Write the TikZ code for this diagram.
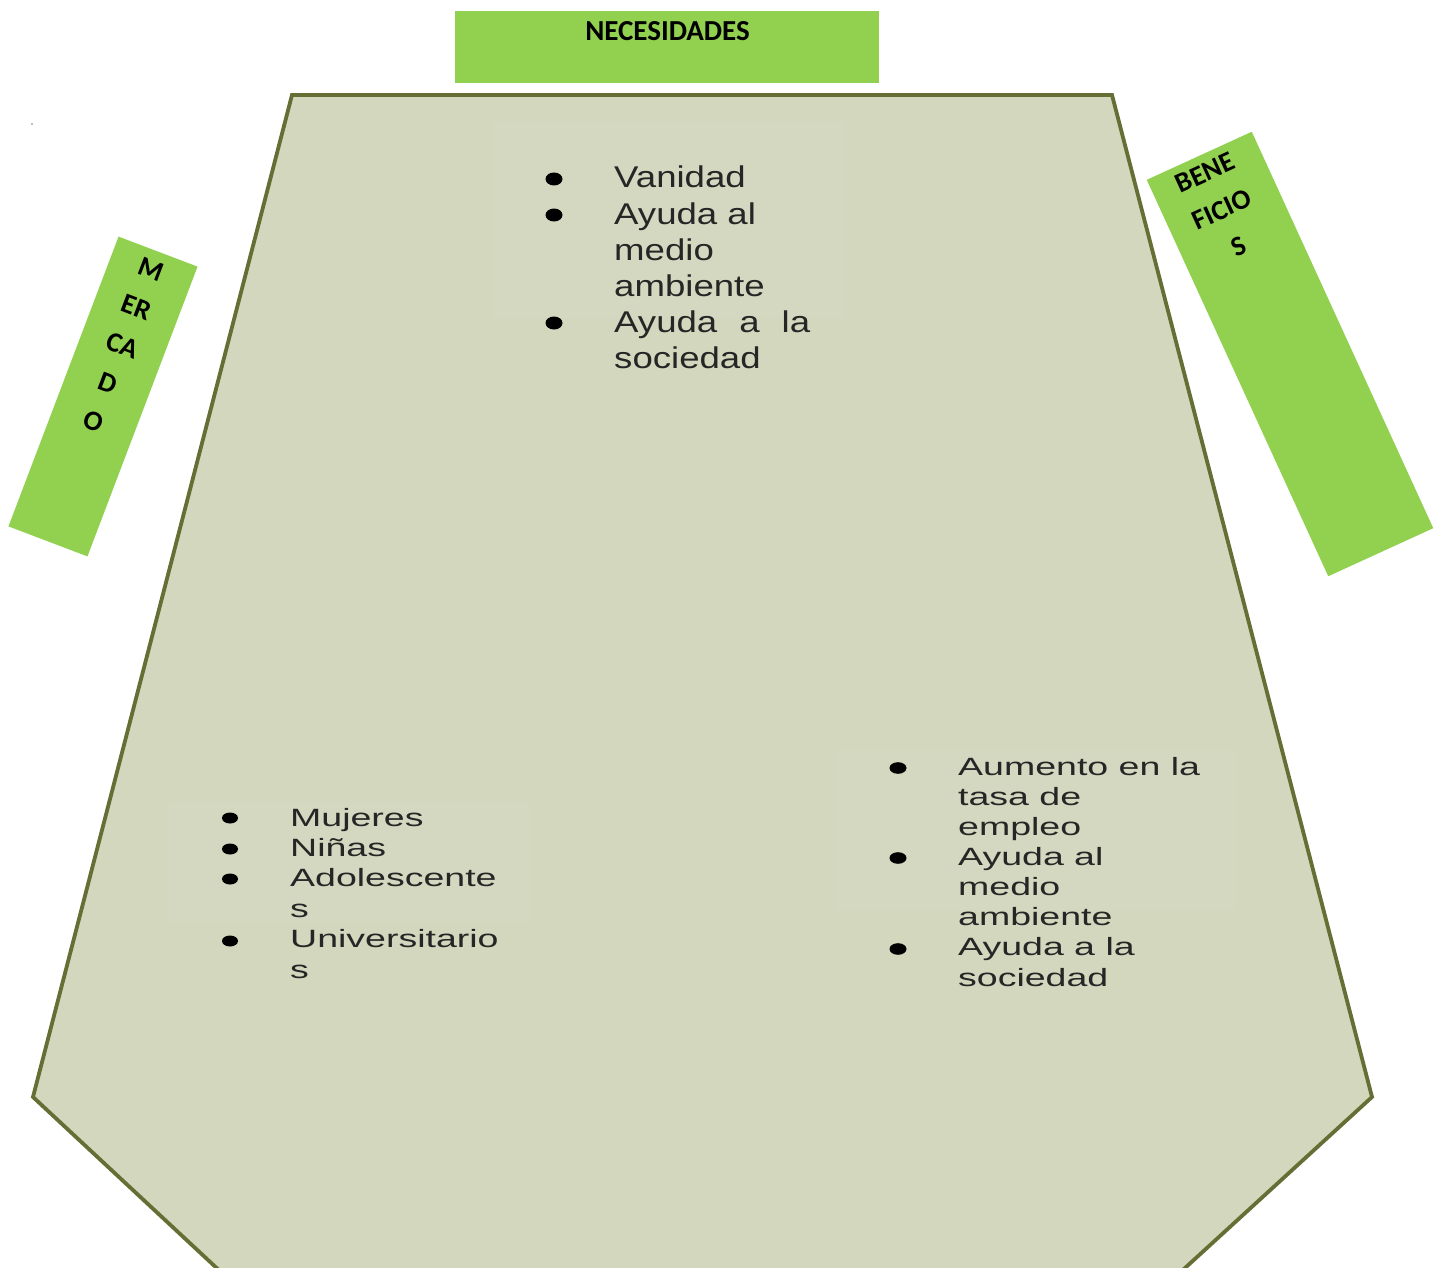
\documentclass[tikz,border=0pt]{standalone}
\usepackage{fontspec}
\setmainfont{Liberation Sans}
\newfontfamily\calfont{Carlito}
\newfontfamily\topfont[FakeStretch=1.22]{Liberation Sans}
\newfontfamily\botfont[FakeStretch=1.5]{Liberation Sans}
\definecolor{leafgreen}{HTML}{92D050}
\definecolor{sagefill}{HTML}{D3D7BD}
\definecolor{sagefaint}{HTML}{D5D8C0}
\definecolor{oliveline}{HTML}{666E35}
\begin{document}
\begin{tikzpicture}[x=1pt,y=-1pt,
  greenbox/.style={fill=leafgreen, draw=none, inner sep=0pt, outer sep=0pt},
  boxlabel/.style={inner sep=0pt, align=center, text=black,
    font={\calfont\bfseries\fontsize{28pt}{40.5pt}\selectfont}},
  toptext/.style={anchor=base west, inner sep=0pt, text=black!85,
    font={\topfont\fontsize{30pt}{36pt}\selectfont}},
  bottext/.style={anchor=base west, inner sep=0pt, text=black!85,
    font={\botfont\fontsize{25pt}{30pt}\selectfont}},
  dot/.style={fill=black}
]
\useasboundingbox (0,0) rectangle (1434,1268);
\clip (0,0) rectangle (1434,1268);
\fill[white] (0,0) rectangle (1434,1268);

% main shape
\draw[fill=sagefill, draw=oliveline, line width=3.8pt, line join=miter]
  (292,95) -- (1112,95) -- (1372,1097) -- (1150,1300) -- (251,1300) -- (33,1097) -- cycle;

% faint text panels
\fill[sagefaint] (493,123) rectangle (843,318);
\fill[sagefaint] (168,802) rectangle (530,922);
\fill[sagefaint] (837,750) rectangle (1237,910);

% tiny speck
\fill[black!25] (31,123) rectangle (33,125);

% green label boxes
\node[greenbox, minimum width=424pt, minimum height=72pt, anchor=north west] (necbox) at (455,11) {};
\node[boxlabel, anchor=base] (neclabel) at (667.5,40.7) {\fontsize{29pt}{34pt}\selectfont NECESIDADES};

\node[greenbox, minimum width=84.5pt, minimum height=310pt, rotate=-20.8] (mercbox) at (103,396.5) {};
\node[boxlabel, rotate=-20.8] (merclabel) at (122.2,345.5) {M\\ER\\CA\\D\\O};

\node[greenbox, minimum width=115.5pt, minimum height=436pt, rotate=24.6] (benebox) at (1290,354) {};
\node[boxlabel, rotate=24.6] (benelabel) at (1222,209.5) {BENE\\FICIO\\S};

% top list (necesidades)
\foreach \t [count=\i from 0] in {Vanidad, Ayuda al, medio, ambiente, {\makebox[196pt][s]{Ayuda a la}}, sociedad}
  \node[toptext] (nec\i) at (614,188+36*\i) {\t};
\foreach \yy in {179,215,323}
  \fill[dot] (554,\yy) ellipse [x radius=8.5pt, y radius=6.5pt];

% bottom-left list (mercado)
\foreach \t [count=\i from 0] in {Mujeres, Niñas, Adolescente, s, Universitario, s}
  \node[bottext] (mer\i) at (290,826+30.4*\i) {\t};
\foreach \yy in {818,849,879,941}
  \fill[dot] (230,\yy) ellipse [x radius=8pt, y radius=5.5pt];

% bottom-right list (beneficios)
\foreach \t [count=\i from 0] in {Aumento en la, tasa de, empleo, Ayuda al, medio, ambiente, Ayuda a la, sociedad}
  \node[bottext] (ben\i) at (958,775+30.15*\i) {\t};
\foreach \yy in {768,858,949}
  \fill[dot] (898,\yy) ellipse [x radius=8.5pt, y radius=5.8pt];
\end{tikzpicture}
\end{document}
